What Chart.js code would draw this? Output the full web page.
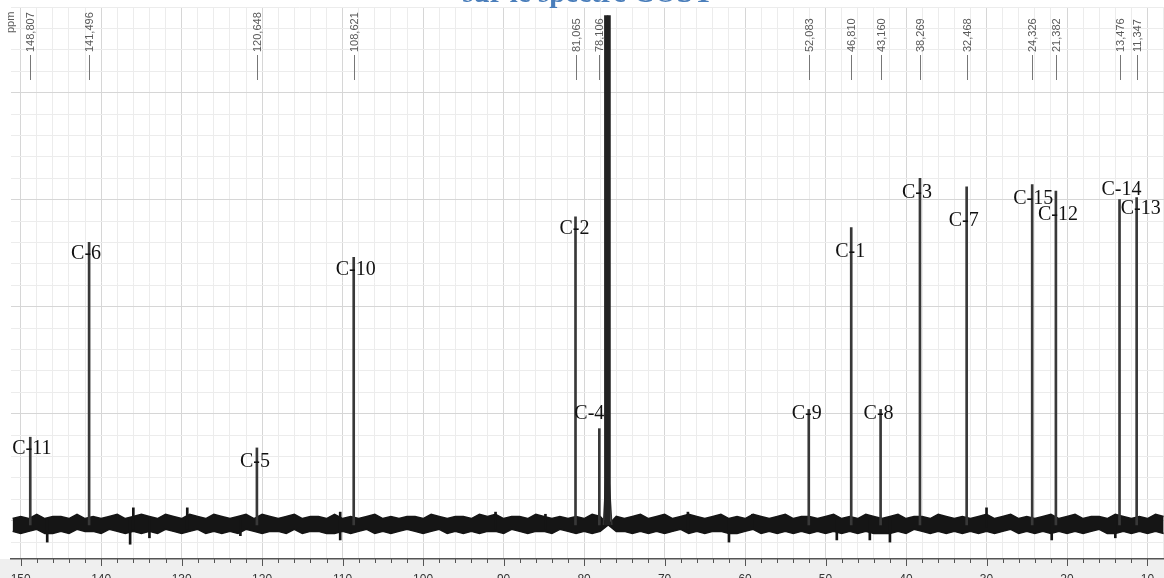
<!DOCTYPE html>
<html>
<head>
<meta charset="utf-8">
<script src="https://cdn.jsdelivr.net/npm/chart.js@4.4.1/dist/chart.umd.min.js"></script>
<style>
    html, body { margin: 0; padding: 0; background: #fff; overflow: hidden; }
    #wrap { width: 1164px; height: 600px; }
</style>
</head>
<body>
<div id="wrap"><canvas id="spectrum" width="1164" height="600"></canvas></div>
<script>
// Peak data (ppm, labels, intensities)
const peakPpm = [148.807, 141.496, 120.648, 108.621, 81.065, 78.106, 52.083, 46.810, 43.160, 38.269, 32.468, 24.326, 21.382, 13.476, 11.347];
const peakNames = ['C-11', 'C-6', 'C-5', 'C-10', 'C-2', 'C-4', 'C-9', 'C-1', 'C-8', 'C-3', 'C-7', 'C-15', 'C-12', 'C-14', 'C-13'];
const peakHeights = [39, 130, 34, 123, 142, 43, 52, 137, 52, 160, 156, 157, 154, 150, 151];
const baseline = -2;

// CDCl3 solvent peak
const solventPpm = [77.6, 77.15, 77.1, 77.05, 76.55];
const solventHeights = [-2, 30, 236, 30, -2];

// Noise band, one sample per ppm from 151 down to 8
const noiseStart = 151;
const noiseHi = [
    1, 2, 1, 3, 1, 2, 2, 1, 3, 1,
    2, 1, 2, 3, 1, 2, 3, 2, 1, 3,
    2, 1, 3, 2, 1, 3, 2, 1, 2, 3,
    1, 3, 2, 1, 2, 3, 1, 2, 2, 1,
    3, 1, 2, 1, 2, 3, 1, 2, 1, 2,
    2, 1, 3, 2, 1, 2, 2, 1, 3, 2,
    3, 1, 2, 2, 1, 3, 2, 1, 2, 1,
    2, 1, 3, 2, -2, 2, 1, 2, 3, 1,
    2, 3, 1, 2, 3, 2, 1, 2, 3, 1,
    2, 1, 3, 2, 1, 2, 3, 1, 2, 2,
    1, 2, 3, 1, 2, 1, 3, 2, 1, 2,
    3, 1, 2, 2, 1, 3, 2, 1, 2, 1,
    2, 3, 1, 2, 3, 1, 2, 1, 2, 3,
    1, 2, 3, 1, 2, 2, 1, 3, 2, 1,
    2, 1, 3, 2
];
const noiseLo = [
    -5, -6, -5, -4, -6, -6, -5, -6, -4, -5,
    -5, -6, -4, -5, -6, -5, -6, -5, -6, -4,
    -5, -6, -5, -4, -6, -5, -6, -5, -6, -4,
    -5, -6, -5, -5, -6, -4, -6, -5, -5, -6,
    -6, -5, -6, -5, -4, -6, -5, -6, -5, -4,
    -5, -6, -5, -4, -6, -5, -6, -5, -6, -5,
    -5, -6, -4, -5, -6, -5, -5, -6, -4, -5,
    -6, -5, -6, -5, -2, -5, -5, -6, -5, -6,
    -5, -6, -5, -4, -6, -5, -6, -5, -5, -6,
    -6, -5, -4, -6, -5, -6, -5, -6, -5, -6,
    -5, -6, -5, -6, -5, -6, -5, -6, -6, -6,
    -5, -6, -4, -5, -6, -5, -6, -5, -6, -5,
    -6, -5, -6, -5, -4, -6, -5, -6, -5, -6,
    -5, -6, -5, -6, -5, -4, -6, -6, -5, -6,
    -5, -6, -5, -6
];

// Isolated noise spikes that stick out of the band
const spikePpm = [146.7, 136.4, 136.0, 134.0, 129.3, 122.7, 110.3, 91.0, 84.8, 67.1, 62.0, 59.1, 48.6, 44.5, 42.0, 30.0, 21.9, 14.0];
const spikeLo = [-10, -11, -4, -8, -4, -7, -9, -4, -4, -4, -10, -4, -9, -9, -10, -3, -9, -8];
const spikeHi = [1, 1, 6, 2, 6, 1, 4, 4, 3, 4, 1, 3, 1, 1, 1, 6, 1, 1];

// Axis ticks
const xTickLabels = [150, 140, 130, 120, 110, 100, 90, 80, 70, 60, 50, 40, 30, 20, 10];
const xMinorStep = 2;
const yGridStep = 10;

// Layout nudges for the C-n labels (pixels, relative to the peak tip)
const labelDx = [-18, -18, -17, -18, -16, -25, -17, -16, -17, -18, -18, -19, -18, -18, -16];
const labelDy = [12, 11, 14, 12, 12, -15, 4, 24, 4, 15, 34, 14, 24, -10, 11];

const peakData = peakPpm.map((p, i) => ({ x: p, y: [baseline, peakHeights[i]] }));
const solventBar = [{ x: solventPpm[2], y: [baseline, solventHeights[2]] }];
const solventLine = solventPpm.map((p, i) => ({ x: p, y: solventHeights[i] }));
const hiData = noiseHi.map((v, i) => ({ x: noiseStart - i, y: v }));
const loData = noiseLo.map((v, i) => ({ x: noiseStart - i, y: v }));
const spikeData = spikePpm.map((p, i) => ({ x: p, y: [spikeLo[i], spikeHi[i]] }));

const fmtPpm = v => v.toFixed(3).replace('.', ',');

// Extras drawn with the scales: title, gray strip, ticks, annotations
const decorPlugin = {
    id: 'decor',
    beforeDraw(chart) {
        const { ctx, chartArea } = chart;
        ctx.save();
        ctx.fillStyle = '#efefef';
        ctx.fillRect(0, chartArea.bottom, chart.width, chart.height - chartArea.bottom);
        ctx.restore();
    },
    afterDatasetsDraw(chart) {
        const { ctx, chartArea } = chart;
        const xs = chart.scales.x;
        const ys = chart.scales.y;
        ctx.save();

        // axis ticks
        ctx.strokeStyle = '#555';
        ctx.lineWidth = 1;
        for (let v = 8; v <= 150; v += xMinorStep) {
            const px = Math.round(xs.getPixelForValue(v)) + 0.5;
            const len = xTickLabels.includes(v) ? 7 : 4;
            ctx.beginPath();
            ctx.moveTo(px, chartArea.bottom);
            ctx.lineTo(px, chartArea.bottom + len);
            ctx.stroke();
        }

        // rotated ppm values at the top
        ctx.font = '11px "Liberation Sans", Arial, sans-serif';
        ctx.fillStyle = '#5a5a5a';
        ctx.strokeStyle = '#777';
        peakPpm.forEach(p => {
            const px = xs.getPixelForValue(p);
            ctx.beginPath();
            ctx.moveTo(Math.round(px) + 0.5, 55);
            ctx.lineTo(Math.round(px) + 0.5, 80);
            ctx.stroke();
            ctx.save();
            ctx.translate(px + 1, 52);
            ctx.rotate(-Math.PI / 2);
            ctx.textAlign = 'left';
            ctx.textBaseline = 'middle';
            ctx.fillText(fmtPpm(p), 0, 0);
            ctx.restore();
        });
        ctx.save();
        ctx.translate(11, 33);
        ctx.rotate(-Math.PI / 2);
        ctx.textAlign = 'left';
        ctx.textBaseline = 'middle';
        ctx.fillText('ppm', 0, 0);
        ctx.restore();

        // C-n labels
        ctx.font = '20px "Liberation Serif", "Times New Roman", serif';
        ctx.fillStyle = '#111';
        ctx.textAlign = 'left';
        ctx.textBaseline = 'middle';
        peakNames.forEach((name, i) => {
            const px = xs.getPixelForValue(peakPpm[i]);
            const py = ys.getPixelForValue(peakHeights[i]);
            ctx.fillText(name, px + labelDx[i], py + labelDy[i]);
        });

        // title, mostly cut off at the top
        ctx.font = 'bold 29px "Liberation Serif", "Times New Roman", serif';
        ctx.fillStyle = '#4a7ebb';
        ctx.textAlign = 'center';
        ctx.textBaseline = 'alphabetic';
        ctx.fillText('sur le spectre COSY', 588, 2);
        ctx.restore();
    }
};

const ctx = document.getElementById('spectrum').getContext('2d');
new Chart(ctx, {
    type: 'bar',
    data: {
        datasets: [
            {
                type: 'bar',
                data: peakData,
                backgroundColor: '#383838',
                barThickness: 2,
                order: 1
            },
            {
                type: 'bar',
                data: solventBar,
                backgroundColor: '#222',
                barThickness: 6,
                order: 1
            },
            {
                type: 'line',
                data: solventLine,
                borderColor: '#333',
                borderWidth: 1.5,
                pointRadius: 0,
                fill: false,
                order: 2
            },
            {
                type: 'bar',
                data: spikeData,
                backgroundColor: '#151515',
                barThickness: 2,
                order: 3
            },
            {
                type: 'line',
                data: hiData,
                borderColor: '#151515',
                borderWidth: 1.5,
                pointRadius: 0,
                fill: false,
                order: 4
            },
            {
                type: 'line',
                data: loData,
                borderColor: '#151515',
                backgroundColor: '#151515',
                borderWidth: 1.5,
                pointRadius: 0,
                fill: '-1',
                order: 4
            }
        ]
    },
    options: {
        responsive: false,
        animation: false,
        devicePixelRatio: 1,
        layout: { autoPadding: false, padding: { left: 11, top: 7, right: 0, bottom: 0 } },
        datasets: { bar: { grouped: false, borderWidth: 0 } },
        plugins: {
            legend: { display: false },
            tooltip: { enabled: false },
            title: { display: false }
        },
        scales: {
            x: {
                type: 'linear',
                reverse: true,
                offset: false,
                min: 7.95,
                max: 151.2,
                afterBuildTicks(scale) {
                    const t = [];
                    for (let v = 8; v <= 150; v += xMinorStep) t.push({ value: v });
                    scale.ticks = t;
                },
                afterFit(scale) { scale.height = 41; },
                grid: {
                    offset: false,
                    drawTicks: false,
                    color: c => (c.tick && xTickLabels.includes(c.tick.value)) ? '#d6d6d6' : '#ececec',
                    lineWidth: 1
                },
                border: { display: true, color: '#555', width: 1.5 },
                ticks: {
                    autoSkip: false,
                    maxRotation: 0,
                    padding: 13,
                    color: '#333',
                    font: { family: '"Liberation Sans", Arial, sans-serif', size: 12 },
                    callback: v => xTickLabels.includes(v) ? String(v) : ''
                }
            },
            y: {
                type: 'linear',
                min: -17.9,
                max: 240,
                afterBuildTicks(scale) {
                    const t = [];
                    for (let v = -10; v <= 240; v += yGridStep) t.push({ value: v });
                    scale.ticks = t;
                },
                afterFit(scale) { scale.width = 0; },
                grid: {
                    drawTicks: false,
                    color: c => (c.tick && c.tick.value % 50 === 0) ? '#d6d6d6' : '#ececec',
                    lineWidth: 1
                },
                border: { display: false },
                ticks: { display: false }
            }
        }
    },
    plugins: [decorPlugin]
});
</script>
</body>
</html>
